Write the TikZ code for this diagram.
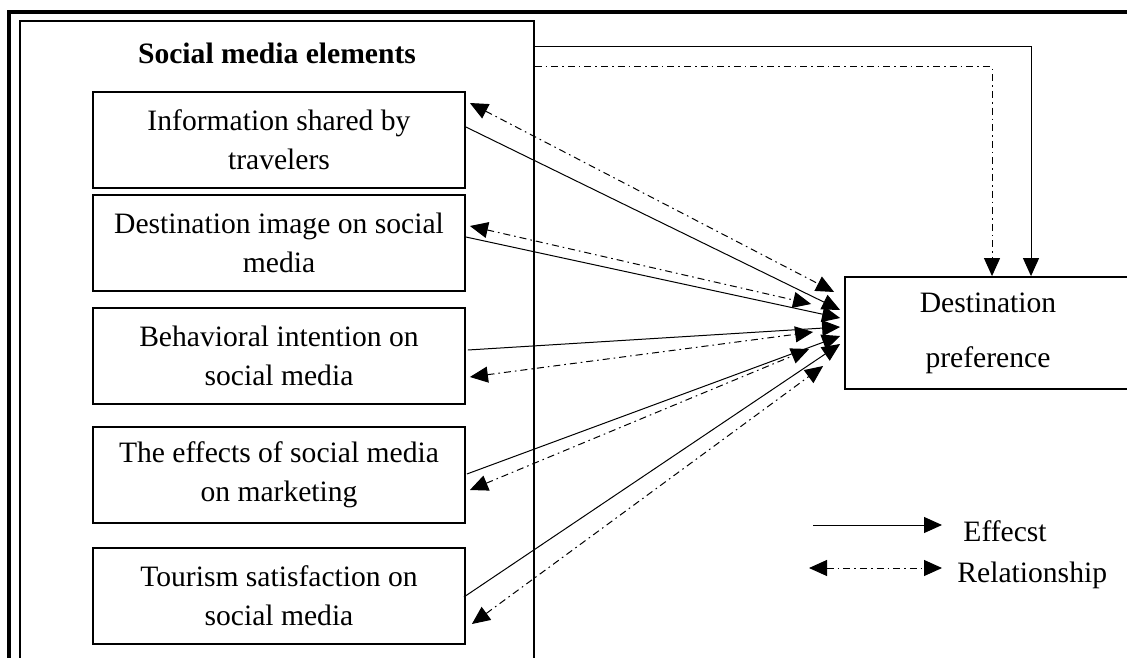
\documentclass[tikz,border=0pt]{standalone}
\usepackage{fontspec}
\setmainfont{Liberation Serif}
\usepackage{tikz}
\usetikzlibrary{arrows.meta,calc}
\tikzstyle{elem}=[draw,line width=0.9pt,minimum width=186pt,minimum height=48pt,inner sep=0pt,align=center]
\tikzstyle{pref}=[draw,line width=0.9pt,minimum width=143pt,minimum height=56pt,inner sep=0pt,align=center]
\tikzstyle{eff}=[line width=0.5pt,->]
\tikzstyle{rel}=[line width=0.5pt,dash pattern=on 3.5pt off 2pt on 0.8pt off 2pt]
\tikzset{>={Triangle[length=9pt,width=8pt]}}

\begin{document}
\begin{tikzpicture}[x=0.5pt,y=-0.5pt,font=\fontsize{14.8}{19.5}\selectfont]
\useasboundingbox (0,0) rectangle (1127,657);

% Frame
\draw[line width=1.6pt] (9,700) -- (9,12) -- (1160,12);

% Nodes
\node[draw,line width=0.8pt,minimum width=257pt,minimum height=340pt,anchor=north west] (elements) at (19,20) {};
\node[font=\fontsize{14.8}{19.5}\selectfont\bfseries] (title) at (277,53) {Social media elements};
\node[elem] (shared)    at (279,140) {Information shared by\\travelers};
\node[elem] (image)     at (279,243) {Destination image on social\\media};
\node[elem] (intention) at (279,356) {Behavioral intention on\\social media};
\node[elem] (marketing) at (279,475) {The effects of social media\\on marketing};
\node[elem] (satisf)    at (279,596) {Tourism satisfaction on\\social media};
\node[pref] (dest)      at (988,333) {Destination\\[8pt]preference};

% Legend
\coordinate (effA) at (813,525);
\coordinate (effB) at (942,525);
\coordinate (relA) at (809,568);
\coordinate (relB) at (942,568);
\node[anchor=base west,inner sep=0pt] (effects) at (963,541) {Effecst};
\node[anchor=base west,inner sep=0pt] (relation) at (957,582) {Relationship};
\draw[eff] (effA) -- (effB);
\draw[rel,<->] (relA) -- (relB);

% Edges
\draw[eff] ($(elements.north east)+(0,27)$) -| ($(dest.north)+(43,0)$);
\draw[rel,->] ($(elements.north east)+(0,47)$) -| ($(dest.north)+(4,0)$);

\draw[eff] ($(shared.east)+(0,-13)$)   -- ($(dest.west)+(-4,-23)$);
\draw[eff] ($(image.east)+(0,-6)$)     -- ($(dest.west)+(-4,-15)$);
\draw[eff] ($(intention.east)+(2,-6)$) -- ($(dest.west)+(-4,-6)$);
\draw[eff] ($(marketing.east)+(1,-1)$) -- ($(dest.west)+(-4,3)$);
\draw[eff] ($(satisf.east)+(-2,1)$)    -- ($(dest.west)+(-4,11)$);

\draw[rel,<->] ($(shared.east)+(4,-37)$)   -- ($(dest.west)+(-10,-41)$);
\draw[rel,<->] ($(image.east)+(4,-17)$)    -- ($(dest.west)+(-33,-29)$);
\draw[rel,<->] ($(intention.east)+(4,21)$) -- ($(dest.west)+(-31,-1)$);
\draw[rel,<->] ($(marketing.east)+(4,15)$) -- ($(dest.west)+(-35,16)$);
\draw[rel,<->] ($(satisf.east)+(6,28)$)    -- ($(dest.west)+(-21,33)$);

\end{tikzpicture}
\end{document}
